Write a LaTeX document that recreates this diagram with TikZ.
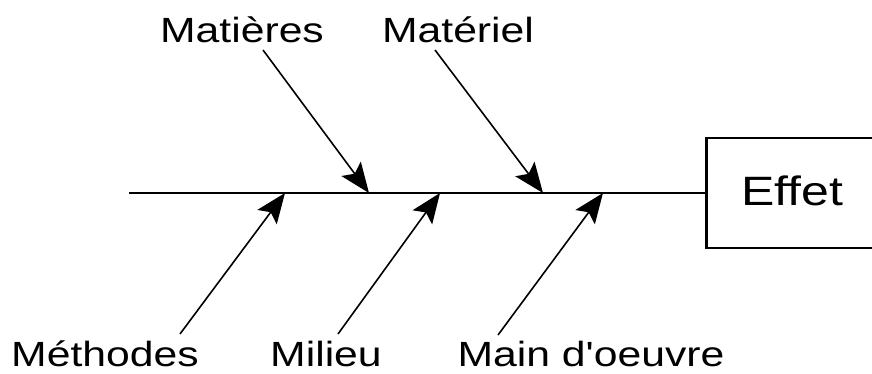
\documentclass[tikz,border=0pt]{standalone}
\usepackage{fontspec}
\setmainfont{Liberation Sans}
\usetikzlibrary{arrows.meta}

\begin{document}
\begin{tikzpicture}[x = 1pt, y = 1pt,
		cause/.style = {anchor = base, xscale = 1.22, font = \fontsize{35}{40}\selectfont},
		branch/.style = {line width = 1.6pt, -{Stealth[length = 30pt, width = 24pt, inset = 6pt]}}]
		\useasboundingbox (0, 0) rectangle (872, 374);
		\clip (0, 0) rectangle (872, 374);
		%%%%%%%%%%%%%
		\node[cause] (c1) at (242, 331) {Matières};
		\node[cause] (c2) at (458, 331) {Matériel};
		\node[cause] (d1) at (105, 7) {Méthodes};
		\node[cause] (d2) at (326, 7) {Milieu};
		\node[cause] (d3) at (591, 7) {Main d\textquotesingle oeuvre};
		\node[draw, line width = 2.5pt, minimum width = 190pt, minimum height = 110pt,
			anchor = west] (e) at (705, 181) {};
		\node[cause, font = \fontsize{41}{46}\selectfont] (eff) at (792, 168) {Ef{}fet};
		%%%%%%%%%%%%%
		\coordinate (s) at (129, 181);
		\coordinate (tc1) at (263, 324); \coordinate (hc1) at (369, 181);
		\coordinate (tc2) at (435, 324); \coordinate (hc2) at (543, 181);
		\coordinate (td1) at (180, 40); \coordinate (hd1) at (285, 181);
		\coordinate (td2) at (338, 40); \coordinate (hd2) at (440, 181);
		\coordinate (td3) at (498, 39); \coordinate (hd3) at (603, 181);
		%%%%%%%%%%%%% 
		\draw [line width = 2.2pt] (s) to (e.west);
		\draw [branch] (tc1) to (hc1); \draw [branch] (tc2) to (hc2);
		\draw [branch] (td1) to (hd1); \draw [branch] (td2) to (hd2);
		\draw [branch] (td3) to (hd3);
\end{tikzpicture}
\end{document}
